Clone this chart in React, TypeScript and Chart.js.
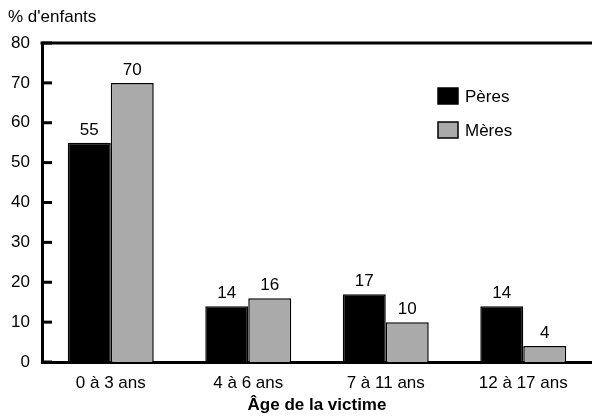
import React, { useEffect, useRef } from "react";
import { Chart, registerables } from "chart.js";

Chart.register(...registerables);

const categories = ["0 à 3 ans", "4 à 6 ans", "7 à 11 ans", "12 à 17 ans"];
const peres = [55, 14, 17, 14];
const meres = [70, 16, 10, 4];
const seriesNames = ["Pères", "Mères"];
const yTitle = "% d'enfants";
const xTitle = "Âge de la victime";

const FONT = "'Liberation Sans', Arial, sans-serif";
const FS = 17;

const decorPlugin = {
  id: "decor",
  afterDraw(chart: any) {
    const ctx = chart.ctx;
    const area = chart.chartArea;
    const y = chart.scales.y;
    ctx.save();
    // top line
    ctx.strokeStyle = "#000";
    ctx.lineWidth = 3;
    ctx.beginPath();
    ctx.moveTo(area.left - 1.5, area.top);
    ctx.lineTo(chart.width, area.top);
    ctx.stroke();
    // inward ticks
    y.ticks.forEach((t: any) => {
      const py = y.getPixelForValue(t.value);
      ctx.beginPath();
      ctx.moveTo(area.left, py);
      ctx.lineTo(area.left + 10, py);
      ctx.stroke();
    });
    // y title
    ctx.fillStyle = "#000";
    ctx.font = `${FS}px ${FONT}`;
    ctx.textAlign = "left";
    ctx.textBaseline = "middle";
    ctx.fillText(yTitle, 8, 17);
    // data labels
    ctx.textAlign = "center";
    ctx.textBaseline = "alphabetic";
    chart.data.datasets.forEach((ds: any, i: number) => {
      const meta = chart.getDatasetMeta(i);
      meta.data.forEach((bar: any, j: number) => {
        ctx.fillText(String(ds.data[j]), bar.x, bar.y - 8);
      });
    });
    // legend
    ctx.textAlign = "left";
    ctx.textBaseline = "middle";
    chart.data.datasets.forEach((ds: any, i: number) => {
      const cy = 96 + i * 34;
      ctx.fillStyle = ds.backgroundColor;
      ctx.fillRect(438, cy - 8, 20, 16);
      ctx.lineWidth = 1.5;
      ctx.strokeStyle = "#000";
      ctx.strokeRect(438, cy - 8, 20, 16);
      ctx.fillStyle = "#000";
      ctx.fillText(ds.label, 465, cy + 1);
    });
    ctx.restore();
  },
};

export default function App() {
  const ref = useRef<HTMLCanvasElement>(null);
  useEffect(() => {
    document.body.style.margin = "0";
    const chart = new Chart(ref.current as HTMLCanvasElement, {
      type: "bar",
      data: {
        labels: categories,
        datasets: [
          {
            label: seriesNames[0],
            data: peres,
            backgroundColor: "#000000",
            borderColor: "#000000",
            borderWidth: 1.5,
            categoryPercentage: 0.625,
            barPercentage: 1,
          },
          {
            label: seriesNames[1],
            data: meres,
            backgroundColor: "#aaaaaa",
            borderColor: "#000000",
            borderWidth: 1.5,
            categoryPercentage: 0.625,
            barPercentage: 1,
          },
        ],
      },
      options: {
        animation: false,
        responsive: false,
        layout: { padding: { top: 43, left: 0, right: 0, bottom: 0 } },
        plugins: { legend: { display: false }, tooltip: { enabled: false }, title: { display: false } },
        scales: {
          x: {
            grid: { display: false, drawTicks: false },
            border: { display: true, color: "#000", width: 3 },
            ticks: { color: "#000", font: { family: FONT, size: FS }, padding: 11 },
            title: {
              display: true,
              text: xTitle,
              color: "#000",
              font: { family: FONT, size: FS, weight: "bold" },
              padding: { top: 2, bottom: 1 },
            },
            afterFit: (s: any) => {
              s.height = 55;
            },
          },
          y: {
            min: 0,
            max: 80,
            grid: { display: false, drawTicks: false },
            border: { display: true, color: "#000", width: 3 },
            ticks: { stepSize: 10, color: "#000", font: { family: FONT, size: FS }, padding: 12 },
            afterFit: (s: any) => {
              s.width = 42;
            },
          },
        },
      },
      plugins: [decorPlugin],
    });
    return () => chart.destroy();
  }, []);
  return <canvas ref={ref} width={592} height={417} style={{ display: "block" }} />;
}
